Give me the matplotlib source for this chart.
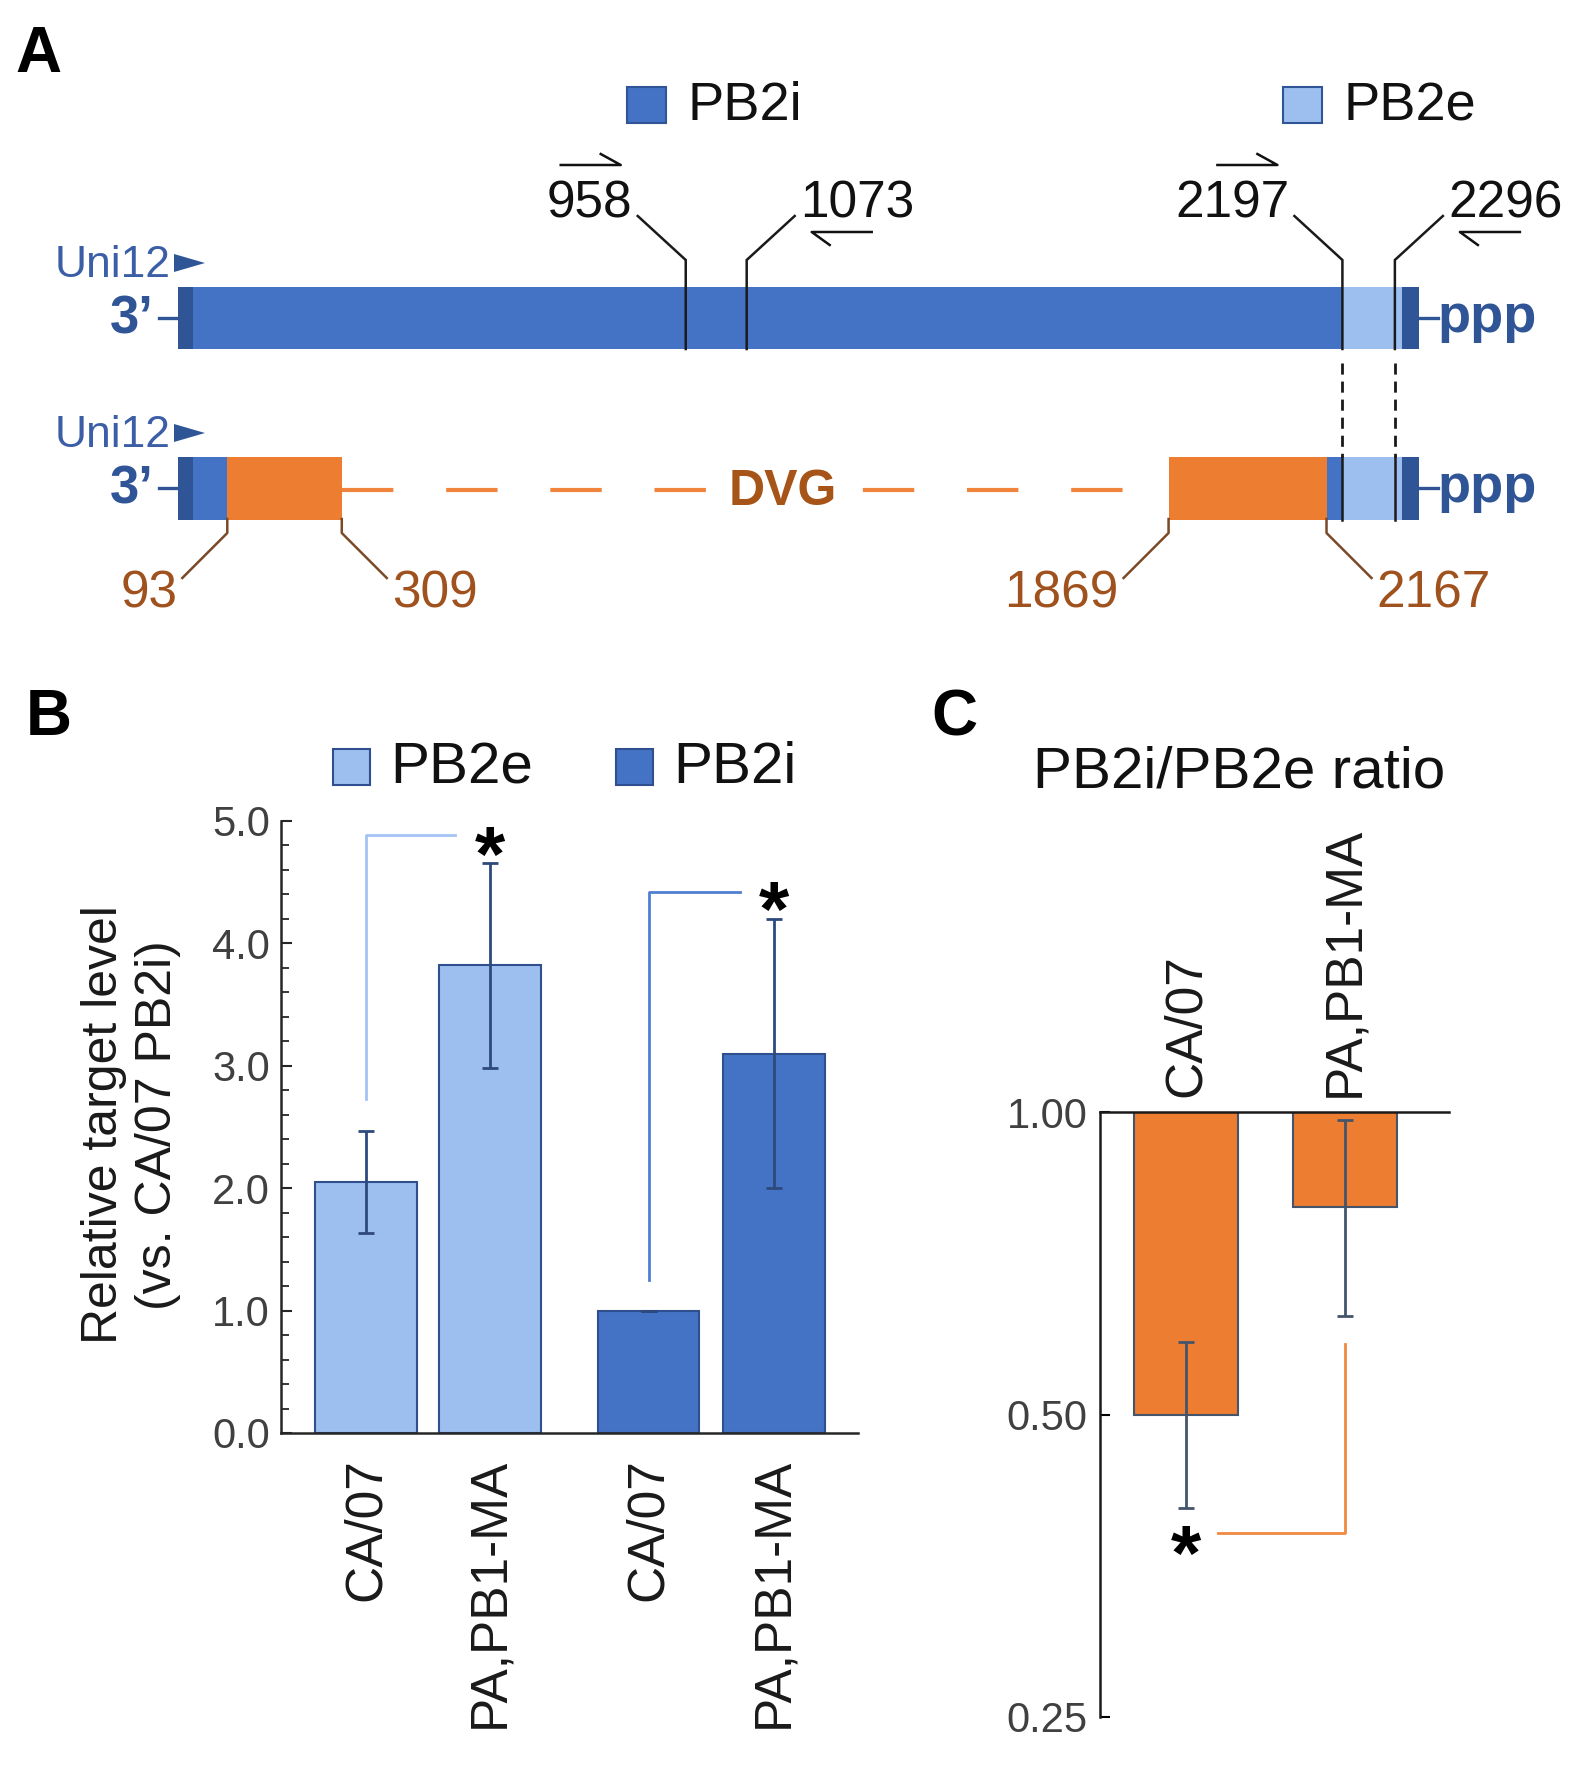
import numpy as np
import matplotlib
matplotlib.use('Agg')
import matplotlib.pyplot as plt
from matplotlib.patches import Rectangle, Polygon
from matplotlib.ticker import MultipleLocator, FormatStrFormatter, NullLocator

plt.rcParams['font.family'] = ['Liberation Sans', 'DejaVu Sans']
plt.rcParams['lines.scale_dashes'] = False

# ---- data ----
# panel A: PB2 segment (nt positions)
seg_len = 2341
utr3_end = 28
utr5_start = 2310
primers = [958, 1073, 2197, 2296]
primer_side = [-1, 1, -1, 1]          # label left / right of the line
junctions = [93, 309, 1869, 2167]     # DVG breakpoints
junction_side = [-1, 1, -1, 1]

# panel B
groups_b = ['CA/07', 'PA,PB1-MA', 'CA/07', 'PA,PB1-MA']
targets_b = ['PB2e', 'PB2e', 'PB2i', 'PB2i']
level_b = [2.05, 3.82, 1.00, 3.10]
level_err_b = [0.42, 0.84, 0.0, 1.10]

# panel C
groups_c = ['CA/07', 'PA,PB1-MA']
ratio_c = np.array([0.50, 0.804])
ratio_lo = np.array([0.404, 0.626])
ratio_hi = np.array([0.590, 0.981])

BLUE = '#4472C4'
LIGHT = '#9DBFF0'
DARK = '#2F5597'
ORANGE = '#ED7D31'
BROWN = '#A0521E'
LBROWN = '#7A4A28'

W, H = 1581, 1771
fig = plt.figure(figsize=(W / 100, H / 100), dpi=100)


def rect(l, t, r, b):
    return [l / W, 1 - b / H, (r - l) / W, (b - t) / H]


ov = fig.add_axes([0, 0, 1, 1])
ov.set_xlim(0, W)
ov.set_ylim(H, 0)
ov.axis('off')

# ================= panel A =================
SLOPE, X0 = 0.530, 178.0
px = lambda d: d / SLOPE                 # pixel distance -> nt
ax_a = fig.add_axes(rect(0, 0, W, 700))
ax_a.set_xlim((0 - X0) / SLOPE, (W - X0) / SLOPE)
ax_a.set_ylim(700, 0)
ax_a.axis('off')

top_y, bar_h = 287, 62
bot_y = 457

ax_a.broken_barh([(0, utr3_end), (utr3_end, 2197 - utr3_end),
                  (2197, utr5_start - 2197), (utr5_start, seg_len - utr5_start)],
                 (top_y, bar_h), facecolors=[DARK, BLUE, LIGHT, DARK], zorder=2)
ax_a.broken_barh([(0, utr3_end), (utr3_end, junctions[0] - utr3_end),
                  (junctions[0], junctions[1] - junctions[0]),
                  (junctions[2], junctions[3] - junctions[2]),
                  (junctions[3], 2197 - junctions[3]),
                  (2197, utr5_start - 2197), (utr5_start, seg_len - utr5_start)],
                 (bot_y, bar_h + 1),
                 facecolors=[DARK, BLUE, ORANGE, ORANGE, BLUE, LIGHT, DARK], zorder=2)

# DVG deletion
ax_a.plot([junctions[1], junctions[2]], [490, 490], color='#F0843C', lw=3,
          dashes=(37, 38), solid_capstyle='butt', zorder=1)
ax_a.text(1141, 492, 'DVG', ha='center', va='center', fontsize=36,
          fontweight='bold', color='#A65417', zorder=3,
          bbox=dict(boxstyle='square,pad=0.4', fc='white', ec='none'))

# primer positions
for p, s in zip(primers, primer_side):
    ax_a.plot([p + s * px(48), p, p], [216, 260, top_y + bar_h], color='#1a1a1a',
              lw=1.8, zorder=3, solid_joinstyle='miter')
    ax_a.text(p + s * px(53), 217, str(p), ha='right' if s < 0 else 'left',
              va='baseline', fontsize=37, color='#111111')
    c = p + s * px(95)
    half = px(30)
    if s < 0:   # forward primer above label
        ax_a.plot([c - half, c + half, c + half - px(20)], [165, 165, 154],
                  color='#111111', lw=1.8)
    else:       # reverse primer below label
        ax_a.plot([c + half, c - half, c - half + px(18)], [232, 232, 245],
                  color='#111111', lw=1.8)

for p in primers[2:]:
    ax_a.plot([p, p], [363, bot_y], color='#1a1a1a', lw=2.0, dashes=(8, 5))
    ax_a.plot([p, p], [bot_y, bot_y + bar_h + 1], color='#1a1a1a', lw=1.8, zorder=3)

# breakpoints
for j, s in zip(junctions, junction_side):
    ax_a.plot([j, j, j + s * px(45)], [bot_y + bar_h, 533, 578], color=LBROWN, lw=1.8)
    ax_a.text(j + s * px(50), 607, str(j), ha='right' if s < 0 else 'left',
              va='baseline', fontsize=37, color=BROWN)

# ends
for yt in (top_y, bot_y):
    yc = yt + bar_h / 2
    ax_a.text(-px(24), yc + 15, '3\u2019', ha='right', va='baseline', fontsize=38,
              fontweight='bold', color=DARK)
    ax_a.plot([-px(19), 0], [yc, yc], color=DARK, lw=2.4)
    ax_a.plot([seg_len, seg_len + px(19)], [yc, yc], color=DARK, lw=2.4)
    ax_a.text(seg_len + px(19), yc + 14, 'ppp', ha='left', va='baseline',
              fontsize=39, fontweight='bold', color=DARK)
    ax_a.text(-px(7), yt - 10, 'Uni12', ha='right', va='baseline', fontsize=32,
              color='#3B5EA6')
    ax_a.add_patch(Polygon([[-px(4), yt - 33], [-px(4), yt - 15], [px(27), yt - 24]],
                           closed=True, color=DARK, lw=0))

# legend A
for x, fc, lab in [(627, BLUE, 'PB2i'), (1283, LIGHT, 'PB2e')]:
    ov.add_patch(Rectangle((x, 87), 39, 36, fc=fc, ec=DARK, lw=1.5))
    ov.text(x + 60, 106, lab, ha='left', va='center', fontsize=39, color='#111111')

# ================= panel B =================
ax_b = fig.add_axes(rect(281, 821, 858, 1433))
xb = [0, 1, 2.28, 3.29]
colors_b = [LIGHT if t == 'PB2e' else BLUE for t in targets_b]
ax_b.bar(xb, level_b, width=0.82, color=colors_b, edgecolor='#2F4F8F',
         linewidth=1.5, zorder=2)
ax_b.errorbar(xb, level_b, yerr=level_err_b, fmt='none', ecolor='#2E4A7D',
              elinewidth=2, capsize=5.5, capthick=2, zorder=3)
ax_b.set_ylim(0, 5)
ax_b.set_xlim(-0.685, 3.97)
for sp in ('top', 'right'):
    ax_b.spines[sp].set_visible(False)
for sp in ('left', 'bottom'):
    ax_b.spines[sp].set_linewidth(1.8)
    ax_b.spines[sp].set_color('#262626')
ax_b.yaxis.set_major_locator(MultipleLocator(1))
ax_b.yaxis.set_minor_locator(MultipleLocator(0.2))
ax_b.yaxis.set_major_formatter(FormatStrFormatter('%.1f'))
ax_b.tick_params(axis='y', which='major', direction='in', length=8, width=1.5,
                 labelsize=30, labelcolor='#404040', pad=8, color='#262626')
ax_b.tick_params(axis='y', which='minor', direction='in', length=6, width=1.3,
                 color='#262626')
ax_b.set_xticks(xb)
ax_b.set_xticklabels(groups_b, rotation=90)
ax_b.tick_params(axis='x', length=0, pad=18, labelsize=37, labelcolor='#1a1a1a')

# significance brackets
for x0, y0, y1, x1, col in [(xb[0], 2.73, 4.885, 0.72, '#A3C4F3'),
                            (xb[2], 1.25, 4.42, 3.02, '#4F7FD0')]:
    ax_b.plot([x0, x0, x1], [y0, y1, y1], color=col, lw=2, clip_on=False)
STAR = 56
for x, y in [(xb[1], 4.87), (xb[3], 4.42)]:
    ax_b.annotate('*', (x, y), xytext=(0, -0.56 * STAR), textcoords='offset points',
                  ha='center', va='baseline', fontsize=STAR, fontweight='bold',
                  annotation_clip=False)

ov.text(131, 1125, 'Relative target level\n(vs. CA/07 PB2i)', rotation=90,
        ha='center', va='center', multialignment='center', fontsize=36,
        linespacing=1.2, color='#1a1a1a')

# legend B
for x, fc, lab in [(333, LIGHT, 'PB2e'), (616, BLUE, 'PB2i')]:
    ov.add_patch(Rectangle((x, 749), 37, 36, fc=fc, ec='#2F4F8F', lw=1.5))
    ov.text(x + 57, 768, lab, ha='left', va='center', fontsize=42, color='#111111')

# ================= panel C =================
ax_c = fig.add_axes(rect(1100, 1112, 1449, 1717))
xc = [0, 1]
ax_c.set_yscale('log', base=2)
ax_c.bar(xc, ratio_c - 1, bottom=1, width=0.65, color=ORANGE,
         edgecolor='#44546A', linewidth=1.5, zorder=2)
ax_c.errorbar(xc, ratio_c, yerr=[ratio_c - ratio_lo, ratio_hi - ratio_c], fmt='none',
              ecolor='#44546A', elinewidth=2, capsize=5.5, capthick=2, zorder=3)
ax_c.set_ylim(0.25, 1.0)
ax_c.set_xlim(-0.541, 1.654)
for sp in ('bottom', 'right'):
    ax_c.spines[sp].set_visible(False)
for sp in ('top', 'left'):
    ax_c.spines[sp].set_linewidth(1.8)
    ax_c.spines[sp].set_color('#1a1a1a')
ax_c.set_yticks([0.25, 0.5, 1.0])
ax_c.set_yticklabels(['0.25', '0.50', '1.00'])
ax_c.yaxis.set_minor_locator(NullLocator())
ax_c.tick_params(axis='y', direction='in', length=7, width=1.5, labelsize=30,
                 labelcolor='#404040', pad=9)
ax_c.xaxis.tick_top()
ax_c.set_xticks(xc)
ax_c.set_xticklabels(groups_c, rotation=90)
ax_c.tick_params(axis='x', length=0, pad=11, labelsize=37, labelcolor='#1a1a1a')

ax_c.plot([xc[1], xc[1], 0.20], [0.587, 0.381, 0.381], color='#F08A40', lw=2,
          clip_on=False)
ax_c.annotate('*', (xc[0], 0.378), xytext=(0, -0.56 * STAR), textcoords='offset points',
              ha='center', va='baseline', fontsize=STAR, fontweight='bold',
              annotation_clip=False)

ov.text(1239, 787, 'PB2i/PB2e ratio', ha='center', va='baseline', fontsize=42,
        color='#111111')

# panel letters
for x, y, lab in [(15, 72, 'A'), (26, 735, 'B'), (931, 736, 'C')]:
    ov.text(x, y, lab, ha='left', va='baseline', fontsize=46, fontweight='bold')

fig.savefig('out.png', dpi=100)
